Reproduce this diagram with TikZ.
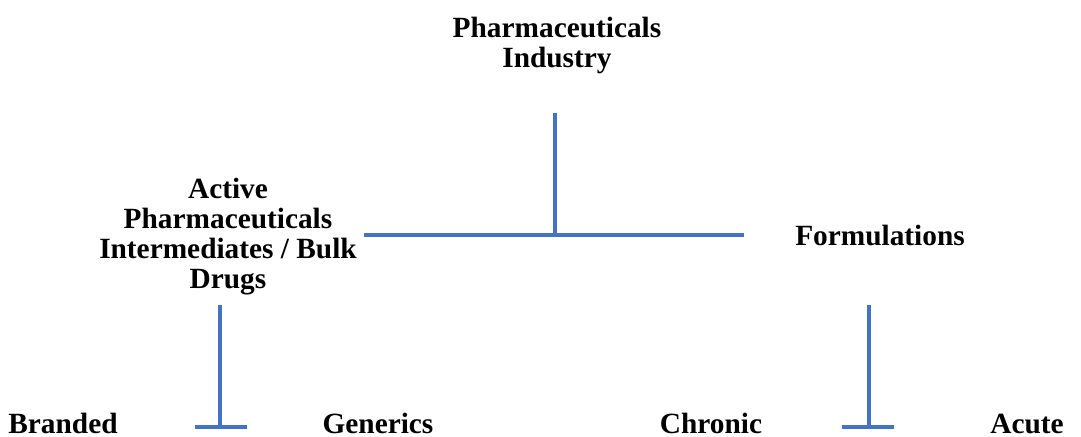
\documentclass[tikz,border=0pt]{standalone}
\usepackage{fontspec}
\setmainfont{Liberation Serif}
\usetikzlibrary{positioning}

\definecolor{linkblue}{HTML}{4472C4}

\begin{document}
\begin{tikzpicture}[
  x=0.75pt, y=-0.75pt, % pixel grid of the original picture
  label/.style={align=center, inner sep=0pt, anchor=base, font=\fontsize{22}{22.5}\selectfont\bfseries},
  link/.style={draw=linkblue, line width=2.5pt}]

  \useasboundingbox (0,0) rectangle (1081,436);

  % base anchor sits on the last line
  \node[label] (industry) at (557,67) {Pharmaceuticals\\Industry};
  \node[label] (api) at (228,288) {Active\\Pharmaceuticals\\Intermediates / Bulk\\Drugs};
  \node[label] (form) at (880,245) {Formulations};
  \node[label] (branded) at (63,433) {Branded};
  \node[label] (generics) at (378,433) {Generics};
  \node[label] (chronic) at (711,433) {Chronic};
  \node[label] (acute) at (1027,433) {Acute};

  % T junctions
  \coordinate (top) at (555,113);
  \coordinate (mid) at (555,235);
  \coordinate (midl) at (364,235);
  \coordinate (midr) at (744,235);
  \draw[link] (top) -- (mid);
  \draw[link] (midl) -- (midr);

  \coordinate (apidown) at (220,305);
  \coordinate (apifoot) at (220,427);
  \draw[link] (apidown) -- (apifoot);
  \draw[link] (195,427) -- (247,427);

  \coordinate (formdown) at (869,305);
  \coordinate (formfoot) at (869,427);
  \draw[link] (formdown) -- (formfoot);
  \draw[link] (842,427) -- (894,427);
\end{tikzpicture}
\end{document}
